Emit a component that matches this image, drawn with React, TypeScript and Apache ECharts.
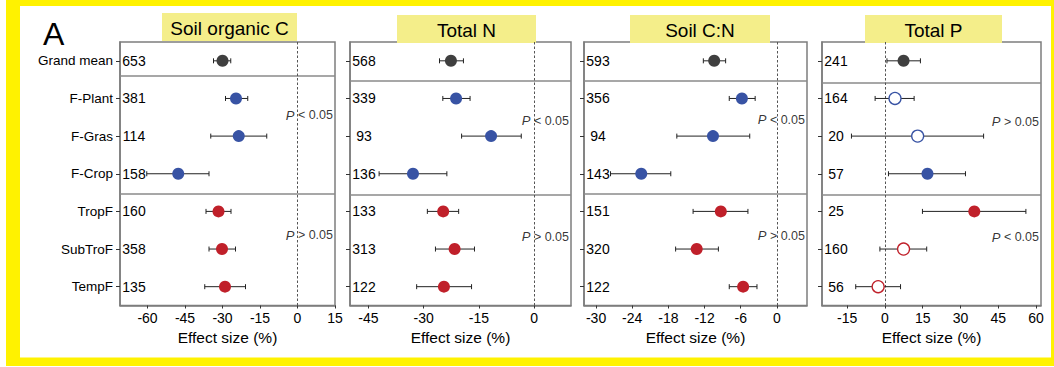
import { useEffect, useRef } from 'react';
import * as echarts from 'echarts';

// ---------- data ----------
const categories = ['Grand mean', 'F-Plant', 'F-Gras', 'F-Crop', 'TropF', 'SubTroF', 'TempF'];
const panelTitles = ['Soil organic C', 'Total N', 'Soil C:N', 'Total P'];

const socMean = [-30.0, -24.6, -23.5, -47.7, -31.6, -30.2, -29.0];
const socLow = [-33.6, -28.8, -34.7, -60.3, -36.6, -35.4, -37.1];
const socHigh = [-26.7, -19.9, -12.3, -35.4, -26.6, -24.8, -20.8];
const socN = [653, 381, 114, 158, 160, 358, 135];

const tnMean = [-22.6, -21.2, -11.7, -32.9, -24.7, -21.6, -24.5];
const tnLow = [-25.7, -24.8, -19.7, -42.1, -29.0, -26.8, -31.9];
const tnHigh = [-19.2, -17.4, -3.5, -23.7, -20.5, -16.2, -17.0];
const tnN = [568, 339, 93, 136, 133, 313, 122];

const cnMean = [-10.4, -5.8, -10.6, -22.5, -9.3, -13.3, -5.6];
const cnLow = [-12.2, -7.9, -16.6, -27.6, -13.9, -16.8, -7.9];
const cnHigh = [-8.5, -3.6, -4.5, -17.6, -4.8, -9.7, -3.3];
const cnN = [593, 356, 94, 143, 151, 320, 122];

const tpMean = [7.4, 4.0, 13.0, 16.9, 35.5, 7.4, -2.7];
const tpLow = [0.8, -3.9, -13.3, 1.4, 14.9, -2.0, -11.6];
const tpHigh = [14.1, 11.6, 39.2, 32.0, 56.0, 16.6, 6.2];
const tpN = [241, 164, 20, 57, 25, 160, 56];

const allFilled = [true, true, true, true, true, true, true];
const tpFilled = [true, false, false, true, true, false, false];

const pTop = ['<', '<', '<', '>'];
const pBottom = ['>', '>', '>', '<'];

const xTicks = [
  [-60, -45, -30, -15, 0, 15],
  [-45, -30, -15, 0],
  [-30, -24, -18, -12, -6, 0],
  [-15, 0, 15, 30, 45, 60],
];
const xMin = [-71, -50, -32, -25];
const xMax = [15, 10, 5, 62];

const means = [socMean, tnMean, cnMean, tpMean];
const lows = [socLow, tnLow, cnLow, tpLow];
const highs = [socHigh, tnHigh, cnHigh, tpHigh];
const counts = [socN, tnN, cnN, tpN];
const filled = [allFilled, allFilled, allFilled, tpFilled];

// ---------- layout / style ----------
const FONT = 'Liberation Sans, Arial, sans-serif';
const GRID_LEFT = [120, 350, 584, 822];
const GRID_RIGHT = [335, 571, 807, 1041];
const GRID_TOP = 42;
const GRID_H = 263.5;
const SEP_A = [0.4, 0.54, 0.54, 0.57];
const SEP_B = [3.52, 3.55, 3.52, 3.57];
const P_Y_TOP = [1.45, 1.59, 1.57, 1.62];
const P_Y_BOT = [4.63, 4.67, 4.65, 4.69];
const TITLE_BOX = [
  [162, 13, 135, 28],
  [397, 15, 139, 28],
  [630, 15, 140, 28],
  [865, 15, 137, 28],
];
const rowIdx = [0, 1, 2, 3, 4, 5, 6];
const groupColor = (r: number) => (r === 0 ? '#3f3f3f' : r <= 3 ? '#3853a4' : '#c0202a');
const FRAME = '#7d7d7d';

function buildOption() {
  const grid: any[] = [];
  const xAxis: any[] = [];
  const yAxis: any[] = [];
  const series: any[] = [];
  const graphic: any[] = [];

  for (let i = 0; i < 4; i++) {
    grid.push({
      left: GRID_LEFT[i],
      top: GRID_TOP,
      width: GRID_RIGHT[i] - GRID_LEFT[i],
      height: GRID_H,
      show: true,
      borderColor: FRAME,
      borderWidth: 1.5,
      backgroundColor: 'transparent',
      containLabel: false,
    });
    xAxis.push({
      type: 'value',
      gridIndex: i,
      min: xMin[i],
      max: xMax[i],
      splitLine: { show: false },
      axisLine: { show: true, onZero: false, lineStyle: { color: FRAME, width: 1.5 } },
      axisTick: { show: true, customValues: xTicks[i], length: 3, inside: false, lineStyle: { color: '#333' } },
      axisLabel: {
        customValues: xTicks[i],
        fontSize: 14,
        color: '#000',
        margin: 5,
        fontFamily: FONT,
        formatter: (v: number) => String(v),
      },
      name: 'Effect size (%)',
      nameLocation: 'middle',
      nameGap: 24,
      nameTextStyle: { fontSize: 15.5, color: '#000', fontFamily: FONT },
    });
    yAxis.push({
      type: 'value',
      gridIndex: i,
      inverse: true,
      min: -0.5,
      max: 6.5,
      position: 'left',
      splitLine: { show: false },
      axisLine: { show: true, onZero: false, lineStyle: { color: FRAME, width: 1.5 } },
      axisTick: { show: true, customValues: rowIdx, length: 4, inside: false, lineStyle: { color: '#333' } },
      axisLabel:
        i === 0
          ? {
              show: true,
              customValues: rowIdx,
              formatter: (v: number) => categories[v],
              margin: 7,
              fontSize: 13.5,
              color: '#000',
              fontFamily: FONT,
            }
          : { show: false },
    });
    yAxis.push({
      type: 'value',
      gridIndex: i,
      inverse: true,
      min: -0.5,
      max: 6.5,
      position: 'left',
      splitLine: { show: false },
      axisLine: { show: false, onZero: false },
      axisTick: { show: false },
      axisLabel: {
        show: true,
        inside: true,
        customValues: rowIdx,
        formatter: (v: number) => String(counts[i][v]),
        align: 'center',
        margin: 14,
        fontSize: 14,
        color: '#000',
        fontFamily: FONT,
      },
    });

    // error bars
    series.push({
      type: 'custom',
      xAxisIndex: i,
      yAxisIndex: 2 * i,
      encode: { x: [0, 1], y: 2 },
      data: rowIdx.map((r) => [lows[i][r], highs[i][r], r]),
      z: 3,
      renderItem: (_params: any, api: any) => {
        const lo = api.coord([api.value(0), api.value(2)]);
        const hi = api.coord([api.value(1), api.value(2)]);
        const h = 2.5;
        const style = { stroke: '#222', lineWidth: 1 };
        return {
          type: 'group',
          children: [
            { type: 'line', shape: { x1: lo[0], y1: lo[1], x2: hi[0], y2: hi[1] }, style },
            { type: 'line', shape: { x1: lo[0], y1: lo[1] - h, x2: lo[0], y2: lo[1] + h }, style },
            { type: 'line', shape: { x1: hi[0], y1: hi[1] - h, x2: hi[0], y2: hi[1] + h }, style },
          ],
        };
      },
    });

    // points + separators + zero line
    series.push({
      type: 'scatter',
      xAxisIndex: i,
      yAxisIndex: 2 * i,
      symbol: 'circle',
      symbolSize: 12,
      z: 5,
      data: rowIdx.map((r) => ({
        value: [means[i][r], r],
        itemStyle: filled[i][r]
          ? { color: groupColor(r), borderWidth: 0, opacity: 1 }
          : { color: '#fff', borderColor: groupColor(r), borderWidth: 1.3, opacity: 1 },
      })),
      markLine: {
        silent: true,
        symbol: ['none', 'none'],
        label: { show: false },
        z: 2,
        data: [
          { yAxis: SEP_A[i], lineStyle: { color: '#8a8a8a', width: 1.5, type: 'solid' } },
          { yAxis: SEP_B[i], lineStyle: { color: '#8a8a8a', width: 1.5, type: 'solid' } },
          { xAxis: 0, lineStyle: { color: '#555', width: 1, type: [2.5, 2] } },
        ],
      },
    });

    // p-value annotations
    series.push({
      type: 'scatter',
      xAxisIndex: i,
      yAxisIndex: 2 * i,
      symbolSize: 0,
      silent: true,
      data: [
        { value: [xMax[i], P_Y_TOP[i]], sym: pTop[i] },
        { value: [xMax[i], P_Y_BOT[i]], sym: pBottom[i] },
      ],
      label: {
        show: true,
        position: 'left',
        distance: 2,
        fontSize: 12.5,
        color: '#000',
        fontFamily: FONT,
        formatter: (p: any) => `{i|P} ${p.data.sym} 0.05`,
        rich: { i: { fontStyle: 'italic', fontSize: 13, fontFamily: FONT, color: '#000' } },
      },
    });

    // title box
    const [bx, by, bw, bh] = TITLE_BOX[i];
    graphic.push({
      type: 'rect',
      shape: { x: bx, y: by, width: bw, height: bh },
      style: { fill: '#f4ee8a' },
      z: 1,
    });
    graphic.push({
      type: 'text',
      x: bx + bw / 2,
      y: by + bh / 2 + 1,
      style: {
        text: panelTitles[i],
        fontSize: 19,
        fontFamily: FONT,
        fill: '#000',
        align: 'center',
        verticalAlign: 'middle',
      },
      z: 2,
    });
  }

  // yellow frame
  const Y = '#fff200';
  graphic.push({ type: 'rect', shape: { x: 6, y: 0, width: 14, height: 366 }, style: { fill: Y }, z: 0 });
  graphic.push({ type: 'rect', shape: { x: 6, y: 0, width: 1048, height: 6 }, style: { fill: Y }, z: 0 });
  graphic.push({ type: 'rect', shape: { x: 1051, y: 0, width: 3, height: 366 }, style: { fill: Y }, z: 0 });
  graphic.push({ type: 'rect', shape: { x: 6, y: 357.5, width: 1048, height: 8.5 }, style: { fill: Y }, z: 0 });
  // panel letter
  graphic.push({
    type: 'text',
    x: 43,
    y: 34,
    style: { text: 'A', fontSize: 32, fontFamily: FONT, fill: '#000', verticalAlign: 'middle', align: 'left' },
  });

  return {
    animation: false,
    backgroundColor: '#fff',
    textStyle: { fontFamily: FONT },
    grid,
    xAxis,
    yAxis,
    series,
    graphic,
  };
}

export default function App() {
  const ref = useRef<HTMLDivElement>(null);
  useEffect(() => {
    const chart = echarts.init(ref.current!, null, { renderer: 'svg' });
    chart.setOption(buildOption() as any);
    return () => chart.dispose();
  }, []);
  return <div ref={ref} style={{ position: 'absolute', left: 0, top: 0, width: 1054, height: 367 }} />;
}
